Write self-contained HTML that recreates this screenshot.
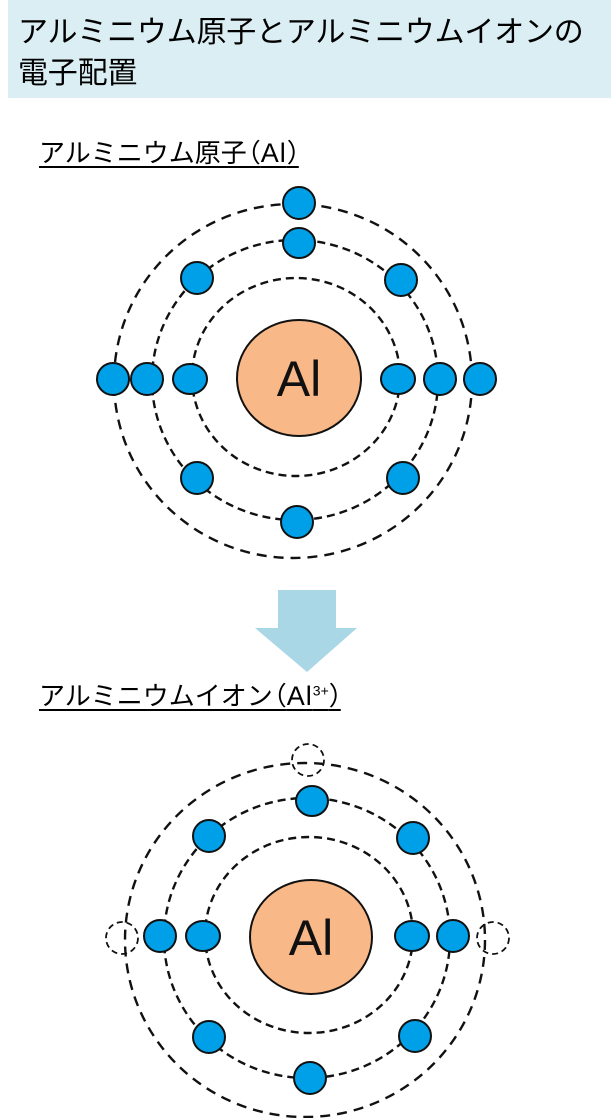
<!DOCTYPE html>
<html><head><meta charset="utf-8"><style>
body{margin:0;width:611px;height:1118px;background:#fff;position:relative;overflow:hidden;font-family:"Liberation Sans","Noto Sans CJK JP",sans-serif;}
.hdr{position:absolute;left:8px;top:0;width:603px;height:98px;background:#daeef3;}
.hdr div{position:absolute;left:10px;font-size:30px;color:#000;white-space:nowrap;line-height:1;letter-spacing:-0.2px;}
.lbl{position:absolute;left:39px;font-size:26px;line-height:1;text-decoration:underline;text-decoration-thickness:2px;text-underline-offset:4px;color:#000;white-space:nowrap;}
.al{font-size:27px;letter-spacing:1px;}
.po{margin-left:-12px;}
.pc{letter-spacing:-14px;}
svg{position:absolute;left:0;top:0;}
</style></head><body>
<div class="hdr"><div style="top:18px">アルミニウム原子とアルミニウムイオンの</div><div style="top:59px">電子配置</div></div>
<div class="lbl" style="top:140px">アルミニウム原子<span class="po">（</span><span class="al">Al</span><span class="pc">）</span></div>
<div class="lbl" style="top:683px">アルミニウムイオン<span class="po">（</span><span class="al">Al</span><sup style="font-size:14px">3+</sup><span class="pc">）</span></div>
<svg width="611" height="1118">
<g fill="none" stroke="#111" stroke-width="2.4" stroke-dasharray="8,5">
<ellipse cx="296" cy="377" rx="104" ry="99"/>
<ellipse cx="295" cy="380" rx="143" ry="140"/>
<ellipse cx="293" cy="381" rx="179" ry="177" stroke-dasharray="10,7"/>
<ellipse cx="309" cy="935" rx="104" ry="98"/>
<ellipse cx="307" cy="938" rx="143" ry="140"/>
<ellipse cx="305" cy="940" rx="180" ry="177" stroke-dasharray="10,7"/>
<circle cx="308" cy="760" r="16" stroke-width="1.8" stroke-dasharray="6,4"/>
<circle cx="122" cy="938" r="16" stroke-width="1.8" stroke-dasharray="6,4"/>
<circle cx="493" cy="938" r="16" stroke-width="1.8" stroke-dasharray="6,4"/>
</g>
<g fill="#f8b887" stroke="#111" stroke-width="2">
<ellipse cx="299" cy="378" rx="62" ry="58"/>
<ellipse cx="311" cy="937" rx="61" ry="57"/>
</g>
<text x="299" y="396" font-size="50" text-anchor="middle" fill="#111" font-family="Liberation Sans,sans-serif">Al</text>
<text x="311" y="955" font-size="50" text-anchor="middle" fill="#111" font-family="Liberation Sans,sans-serif">Al</text>
<g fill="#00a0e9" stroke="#111" stroke-width="2">
<circle cx="113" cy="379" r="16"/><circle cx="147" cy="379" r="16"/><ellipse cx="190" cy="379" rx="17" ry="15"/>
<ellipse cx="398" cy="379" rx="17" ry="15"/><circle cx="440" cy="379" r="16"/><circle cx="480" cy="379" r="16"/>
<circle cx="299" cy="203" r="16"/><ellipse cx="299" cy="243" rx="16" ry="15"/>
<circle cx="197" cy="278" r="16"/><circle cx="401" cy="280" r="16"/>
<circle cx="197" cy="478" r="16"/><circle cx="403" cy="478" r="16"/>
<circle cx="297" cy="522" r="16"/>
<circle cx="160" cy="936" r="16"/><ellipse cx="203" cy="936" rx="17" ry="15"/>
<ellipse cx="412" cy="936" rx="17" ry="15"/><circle cx="453" cy="936" r="16"/>
<ellipse cx="312" cy="801" rx="16" ry="15"/>
<circle cx="209" cy="836" r="16"/><circle cx="413" cy="838" r="16"/>
<circle cx="209" cy="1037" r="16"/><circle cx="415" cy="1036" r="16"/>
<circle cx="310" cy="1078" r="16"/>
</g>
<polygon points="278,590 336,590 336,628 357,628 307,672 255,628 278,628" fill="#a9d7e6"/>
</svg>
</body></html>
